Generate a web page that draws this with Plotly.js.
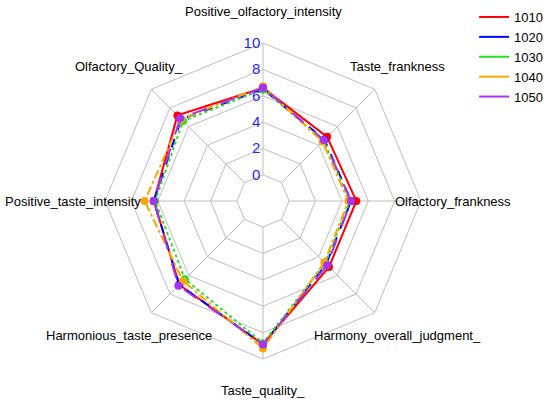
<!DOCTYPE html>
<html>
<head>
<meta charset="utf-8">
<script src="https://cdn.plot.ly/plotly-3.0.1.min.js"></script>
<style>html,body{margin:0;padding:0;background:#fff;}#chart{width:550px;height:402px;}</style>
</head>
<body>
<div id="chart"></div>
<script>
const categories = ["Positive_olfactory_intensity","Olfactory_Quality_","Positive_taste_intensity","Harmonious_taste_presence","Taste_quality_","Harmony_overall_judgment_","Olfactory_frankness","Taste_frankness"];
const seriesNames = ["1010","1020","1030","1040","1050"];
const s1010 = [6.6, 7.2, 6.3, 7.0, 8.9, 5.1, 5.1, 4.9];
const s1020 = [6.5, 6.8, 6.3, 7.0, 8.9, 4.8, 4.7, 4.6];
const s1030 = [6.5, 6.6, 6.2, 6.4, 8.8, 4.7, 4.6, 4.5];
const s1040 = [6.7, 6.8, 7.0, 6.6, 9.2, 4.6, 4.5, 4.4];
const s1050 = [6.6, 6.9, 6.3, 7.1, 8.9, 4.9, 4.7, 4.55];
const radialTicks = [0, 2, 4, 6, 8, 10];

const W = 550, H = 402;
const colors = ["#FF0000","#0000FF","#22E022","#FFA500","#A632F5"];
const dashes = ["solid","dash","dot","dashdot","longdash"];
const allSeries = [s1010, s1020, s1030, s1040, s1050];
const font = "Arial, 'Liberation Sans', sans-serif";
const domX = [0.1909, 0.7655], domY = [0.107, 0.893];

const traces = allSeries.map((vals, i) => ({
  type: "scatterpolar",
  r: vals.concat([vals[0]]),
  theta: categories.concat([categories[0]]),
  mode: "lines+markers",
  name: seriesNames[i],
  showlegend: false,
  line: {color: colors[i], width: 2, dash: dashes[i]},
  marker: {color: colors[i], size: 8, symbol: "circle"},
  cliponaxis: false
}));
// legend entries (solid lines only, as in the reference)
seriesNames.forEach((nm, i) => traces.push({
  type: "scatterpolar",
  r: [null], theta: [null],
  mode: "lines",
  name: nm,
  line: {color: colors[i], width: 2, dash: "solid"},
  showlegend: true,
  hoverinfo: "skip"
}));

// category labels placed at 1.2 x the outer radius, centred (fmsb style)
const cx = (domX[0] + domX[1]) / 2 * W;
const cy = (1 - (domY[0] + domY[1]) / 2) * H;
const R = Math.min((domX[1] - domX[0]) * W, (domY[1] - domY[0]) * H) / 2;
const annotations = categories.map((c, i) => {
  const a = (90 + i * 360 / categories.length) * Math.PI / 180;
  const px = cx + 1.2 * R * Math.cos(a);
  const py = cy - 1.2 * R * Math.sin(a);
  return {
    xref: "paper", yref: "paper", x: px / W, y: 1 - py / H,
    xanchor: "center", yanchor: "middle", showarrow: false,
    text: c, font: {family: font, size: 13, color: "#000"}
  };
});

const layout = {
  width: W, height: H,
  margin: {l: 0, r: 0, t: 0, b: 0},
  paper_bgcolor: "#fff",
  font: {family: font, color: "#000"},
  showlegend: true,
  annotations: annotations,
  legend: {x: 0.862, y: 0.995, xanchor: "left", yanchor: "top", font: {family: font, size: 13}, tracegroupgap: 0, bgcolor: "rgba(0,0,0,0)"},
  polar: {
    domain: {x: domX, y: domY},
    bgcolor: "#fff",
    hole: 0.165,
    gridshape: "linear",
    radialaxis: {
      range: [0, 10],
      tickvals: radialTicks,
      ticktext: radialTicks.map(String),
      angle: 90,
      tickangle: 90,
      side: "counterclockwise",
      showline: false,
      ticks: "",
      tickfont: {family: font, size: 15, color: "#1F1FFF"},
      gridcolor: "#BEBEBE",
      gridwidth: 1
    },
    angularaxis: {
      direction: "counterclockwise",
      rotation: 90,
      showticklabels: false,
      ticks: "",
      showline: true,
      linecolor: "#BEBEBE",
      linewidth: 1,
      gridcolor: "#BEBEBE",
      gridwidth: 1
    }
  }
};

Plotly.newPlot("chart", traces, layout, {staticPlot: true, displayModeBar: false});
</script>
</body>
</html>
